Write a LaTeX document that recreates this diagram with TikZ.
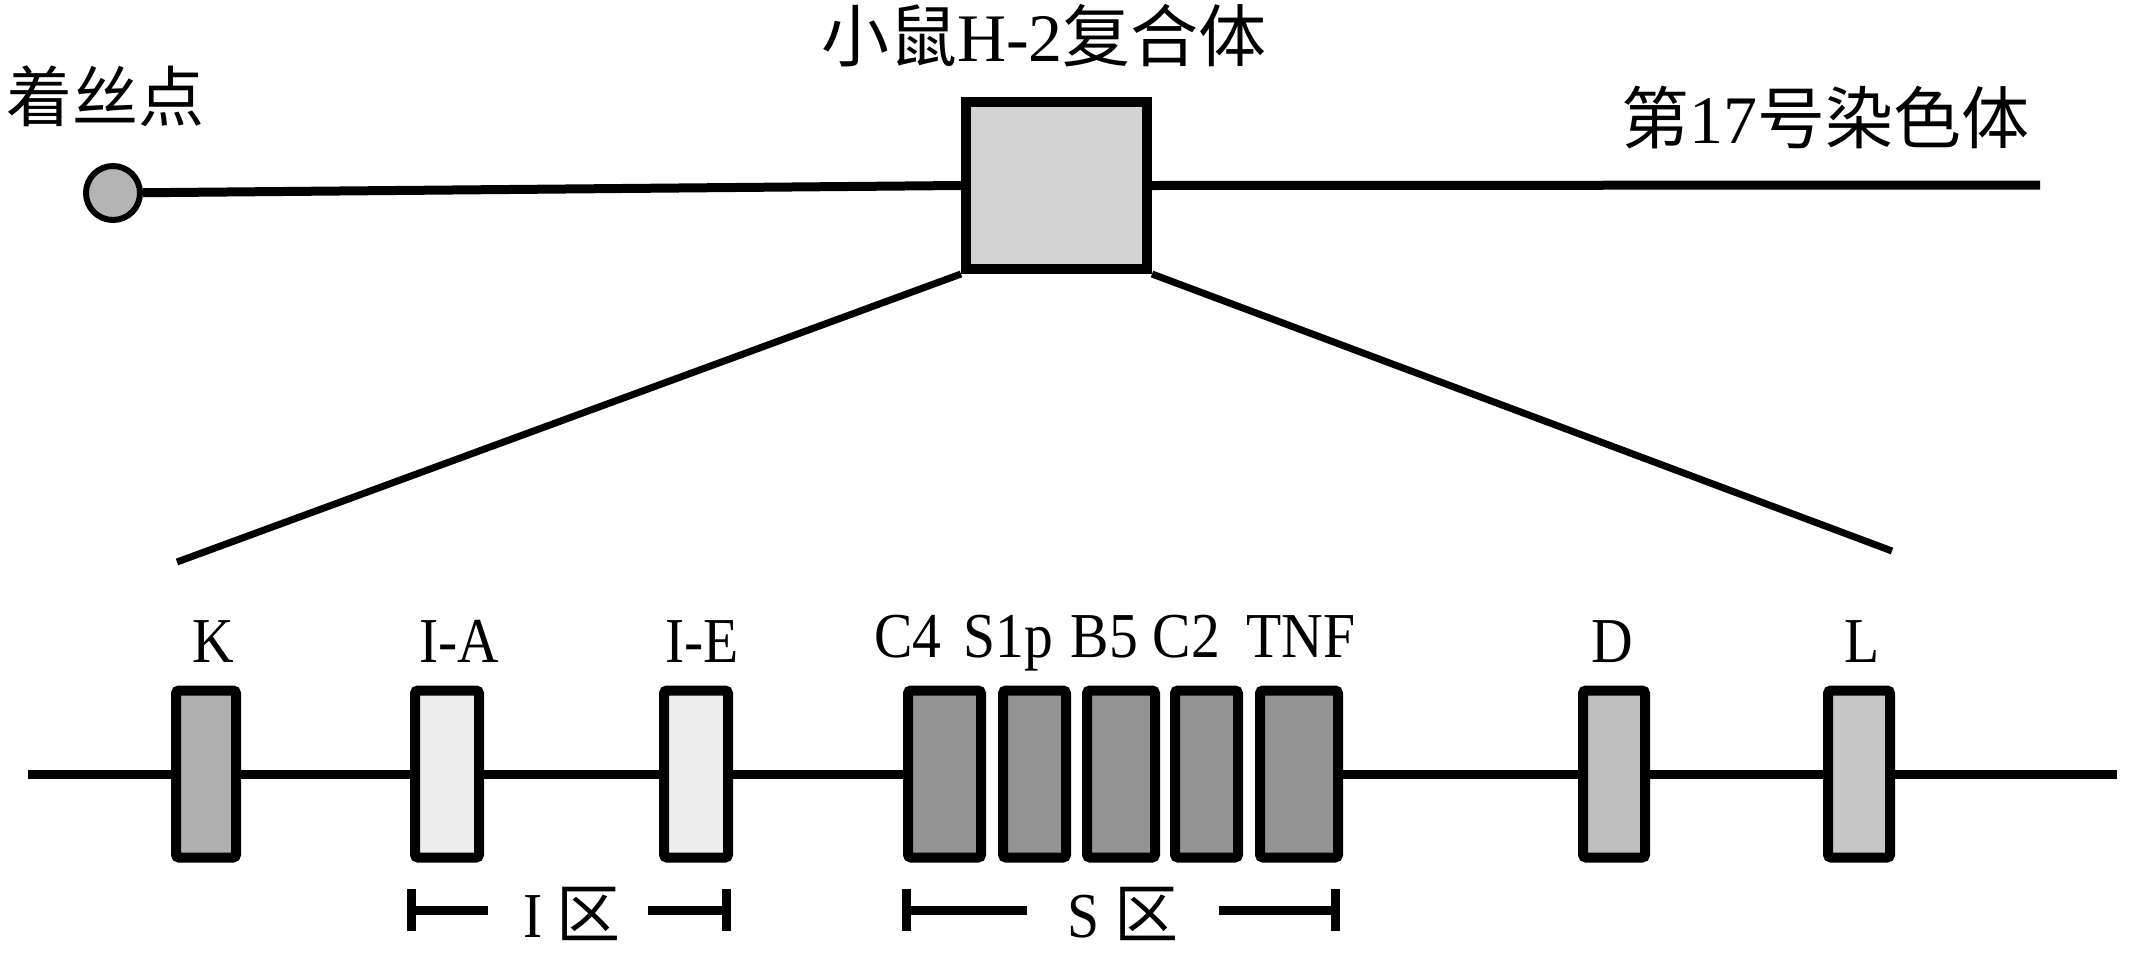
\documentclass[tikz,border=0pt]{standalone}
\usepackage{fontspec}
\setmainfont{Liberation Serif}
\newfontfamily\cjk{Noto Sans CJK SC}
\newfontfamily\lab{Liberation Serif}[FakeStretch=0.9]
\usetikzlibrary{arrows.meta}
\definecolor{cenfill}{HTML}{B4B4B4}
\definecolor{boxfill}{HTML}{D3D3D3}
\definecolor{kfill}{HTML}{AFAFAF}
\definecolor{ifill}{HTML}{EDEDED}
\definecolor{sfill}{HTML}{939393}
\definecolor{dfill}{HTML}{BEBEBE}
\definecolor{lfill}{HTML}{C6C6C6}
\begin{document}
\begin{tikzpicture}[x=0.5pt,y=-0.5pt,
  chrom/.style={line width=4.5pt},
  zoomline/.style={line width=3.5pt},
  gene/.style={draw, line width=5pt, rounded corners=1.5pt, minimum height=83.5pt, inner sep=0pt},
  genelab/.style={font=\lab\fontsize{32}{36}\selectfont, anchor=base, inner sep=0pt},
  cjktext/.style={font=\cjk\fontsize{34}{40}\selectfont, inner sep=0pt},
  bracket/.style={line width=4.5pt, {Bar[width=21pt]}-},
]
\useasboundingbox (0,0) rectangle (2132,959);

% top chromosome
\node[draw, circle, line width=3pt, fill=cenfill, minimum size=27pt, inner sep=0pt] (cen) at (113,193) {};
\node[draw, line width=5pt, fill=boxfill, minimum width=90.5pt, minimum height=83.5pt, inner sep=0pt] (h2) at (1056.5,185.5) {};
\coordinate (chrR) at (2040,185);
\coordinate (zl) at (177,562);
\coordinate (zr) at (1892,551);

\node[cjktext, font=\cjk\fontsize{33}{40}\selectfont] (centxt) at (105,96) {着丝点};
\node[cjktext] (title) at (1044,36) {小鼠{\rmfamily H-2}复合体};
\node[cjktext] (chrtxt) at (1825,118) {第{\rmfamily 17}号染色体};

\draw[chrom] (cen) -- (h2.west);
\draw[chrom] (h2.east) -- (chrR);
\draw[zoomline] (h2.south west) -- (zl);
\draw[zoomline] (h2.south east) -- (zr);

% gene map
\node[gene, fill=kfill,  minimum width=30pt]   (K)   at (206,774) {};
\node[gene, fill=ifill,  minimum width=32pt]   (IA)  at (447,774) {};
\node[gene, fill=ifill,  minimum width=32pt]   (IE)  at (696,774) {};
\node[gene, fill=sfill,  minimum width=36.5pt] (C4)  at (944.5,774) {};
\node[gene, fill=sfill,  minimum width=31.5pt] (S1p) at (1034.5,774) {};
\node[gene, fill=sfill,  minimum width=34pt]   (B5)  at (1121,774) {};
\node[gene, fill=sfill,  minimum width=31.5pt] (C2)  at (1206.5,774) {};
\node[gene, fill=sfill,  minimum width=39pt]   (TNF) at (1299,774) {};
\node[gene, fill=dfill,  minimum width=31pt]   (D)   at (1614,774) {};
\node[gene, fill=lfill,  minimum width=31pt]   (L)   at (1859,774) {};

\coordinate (lowL) at (28,774);
\coordinate (lowR) at (2117,774);
\draw[chrom] (lowL) -- (K.west);
\draw[chrom] (K.east) -- (IA.west);
\draw[chrom] (IA.east) -- (IE.west);
\draw[chrom] (IE.east) -- (C4.west);
\draw[chrom] (TNF.east) -- (D.west);
\draw[chrom] (D.east) -- (L.west);
\draw[chrom] (L.east) -- (lowR);

% labels
\node[genelab] (lK)   at (213,662)  {K};
\node[genelab] (lIA)  at (459,662)  {I-A};
\node[genelab] (lIE)  at (702,662)  {I-E};
\node[genelab] (lC4)  at (908,657)  {C4};
\node[genelab] (lS1p) at (1008,657) {S1p};
\node[genelab] (lB5)  at (1104.5,657) {B5};
\node[genelab] (lC2)  at (1186.5,657) {C2};
\node[genelab] (lTNF) at (1301,657) {TNF};
\node[genelab] (lD)   at (1612,662) {D};
\node[genelab] (lL)   at (1862,662) {L};

% region brackets
\node[genelab] (Itxt) at (572,937) {I {\cjk 区}};
\node[genelab] (Stxt) at (1123,937) {S {\cjk 区}};
\coordinate (IL1) at (407,910);
\coordinate (IL2) at (488,910);
\coordinate (IR1) at (648,910);
\coordinate (IR2) at (731,910);
\coordinate (SL1) at (902,910);
\coordinate (SL2) at (1027,910);
\coordinate (SR1) at (1219,910);
\coordinate (SR2) at (1340,910);
\draw[bracket] (IL1) -- (IL2);
\draw[bracket] (IR2) -- (IR1);
\draw[bracket] (SL1) -- (SL2);
\draw[bracket] (SR2) -- (SR1);
\end{tikzpicture}
\end{document}
